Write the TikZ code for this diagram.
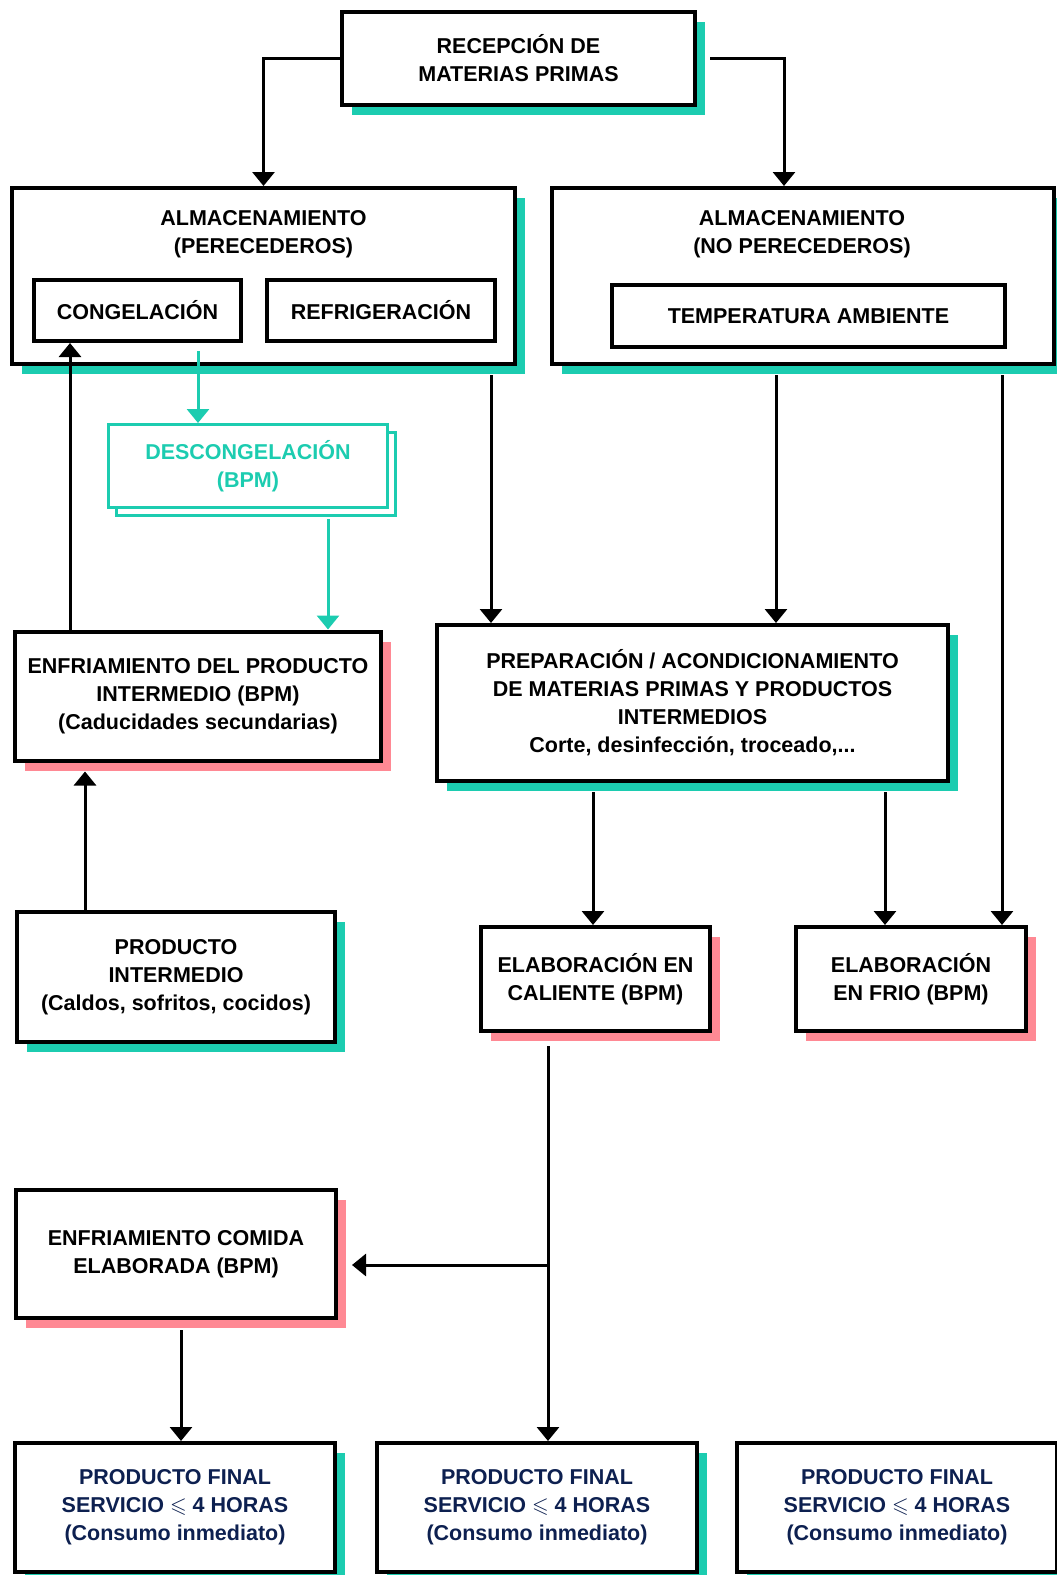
\documentclass[tikz,border=0pt]{standalone}
\usepackage{fontspec}
\usepackage{amssymb}
\setmainfont{Liberation Sans}
\usetikzlibrary{arrows.meta,shadows}

\definecolor{mint}{RGB}{28,204,176}
\definecolor{rose}{RGB}{255,137,148}
\definecolor{navy}{RGB}{13,32,80}
\newcommand\flowfont{\fontsize{21.5}{28}\selectfont\bfseries}

\tikzset{
  boxtitle/.style={align=center,inner sep=0pt,font=\flowfont},
  box/.style={boxtitle,draw=black,line width=4pt,fill=white},
  mintbox/.style={box,drop shadow={shadow xshift=10pt,shadow yshift=-10pt,fill=mint,opacity=1}},
  rosebox/.style={box,drop shadow={shadow xshift=10pt,shadow yshift=-10pt,fill=rose,opacity=1}},
  flow/.style={line width=3pt,-{Triangle[width=22pt,length=14pt]}},
  mintflow/.style={flow,draw=mint},
}

\begin{document}
\begin{tikzpicture}[x=1pt,y=-1pt]
  \clip (0,0) rectangle (1057,1575);
  \node[mintbox,minimum width=353pt,minimum height=93pt] (recep) at (518.5,58.5) {RECEPCIÓN DE\\MATERIAS PRIMAS};

  \node[mintbox,minimum width=503pt,minimum height=176pt] (perec) at (263.5,276) {};
  \node[boxtitle] (perectitle) at (263.5,234) {ALMACENAMIENTO\\(PERECEDEROS)};
  \node[box,minimum width=207pt,minimum height=61pt] (cong) at (137.5,310.5) {CONGELACIÓN};
  \node[box,minimum width=228pt,minimum height=61pt] (refri) at (381,310.5) {REFRIGERACIÓN};

  \node[mintbox,minimum width=502pt,minimum height=176pt] (noper) at (803,276) {};
  \node[boxtitle] (nopertitle) at (802,234) {ALMACENAMIENTO\\(NO PERECEDEROS)};
  \node[box,minimum width=393pt,minimum height=62pt] (temp) at (808.5,316) {TEMPERATURA AMBIENTE};

  \node[box,draw=mint,text=mint,line width=3pt,minimum width=279pt,minimum height=83pt,
    copy shadow={shadow xshift=8pt,shadow yshift=-8pt}] (descong) at (248,466) {DESCONGELACIÓN\\(BPM)};

  \node[rosebox,minimum width=366pt,minimum height=129pt] (enfprod) at (198,696) {ENFRIAMIENTO DEL PRODUCTO\\INTERMEDIO (BPM)\\(Caducidades secundarias)};
  \node[mintbox,minimum width=511pt,minimum height=156pt] (prep) at (692.5,703) {PREPARACIÓN / ACONDICIONAMIENTO\\DE MATERIAS PRIMAS Y PRODUCTOS\\INTERMEDIOS\\Corte, desinfección, troceado,...};

  \node[mintbox,minimum width=318pt,minimum height=130pt] (prodint) at (176,977) {PRODUCTO\\INTERMEDIO\\(Caldos, sofritos, cocidos)};
  \node[rosebox,minimum width=229pt,minimum height=104pt] (calien) at (595.5,979) {ELABORACIÓN EN\\CALIENTE (BPM)};
  \node[rosebox,minimum width=230pt,minimum height=104pt] (frio) at (911,979) {ELABORACIÓN\\EN FRIO (BPM)};

  \node[rosebox,minimum width=320pt,minimum height=128pt] (enfcom) at (176,1254) {ENFRIAMIENTO COMIDA\\ELABORADA (BPM)};
  \foreach \name/\x in {finala/175,finalb/537,finalc/897}
    \node[mintbox,text=navy,minimum width=320pt,minimum height=129pt] (\name) at (\x,1507.5)
      {PRODUCTO FINAL\\SERVICIO $\leqslant$ 4 HORAS\\(Consumo inmediato)};

  \foreach \name/\x in {ua/70,ub/85,uc/181,ud/198,ue/328,uf/491,ug/548,uh/593,ui/776,uj/784,uk/885,ul/1002}
    \coordinate (\name) at (\x,0);
  \coordinate (split) at (548,1265);

  \draw[flow] (recep.west) -| (perec.north);
  \draw[flow,shorten <=13pt] (recep.east) -| (uj |- noper.north);
  \draw[mintflow,shorten <=8pt] (ud |- cong.south) -- (ud |- descong.north);
  \draw[mintflow,shorten <=10pt] (ue |- descong.south) -- (ue |- enfprod.north);
  \draw[flow] (ua |- enfprod.north) -- (ua |- cong.south);
  \draw[flow,shorten >=9pt] (ub |- prodint.north) -- (ub |- enfprod.south);
  \draw[flow,shorten <=9pt] (uf |- perec.south) -- (uf |- prep.north);
  \draw[flow,shorten <=9pt] (ui |- noper.south) -- (ui |- prep.north);
  \draw[flow,shorten <=9pt] (ul |- noper.south) -- (ul |- frio.north);
  \draw[flow,shorten <=9pt] (uh |- prep.south) -- (uh |- calien.north);
  \draw[flow,shorten <=9pt] (uk |- prep.south) -- (uk |- frio.north);
  \draw[flow,shorten <=13pt] (ug |- calien.south) -- (ug |- finalb.north);
  \draw[flow,shorten >=14pt] (split) -- (split -| enfcom.east);
  \draw[flow,shorten <=10pt] (uc |- enfcom.south) -- (uc |- finala.north);
\end{tikzpicture}
\end{document}
